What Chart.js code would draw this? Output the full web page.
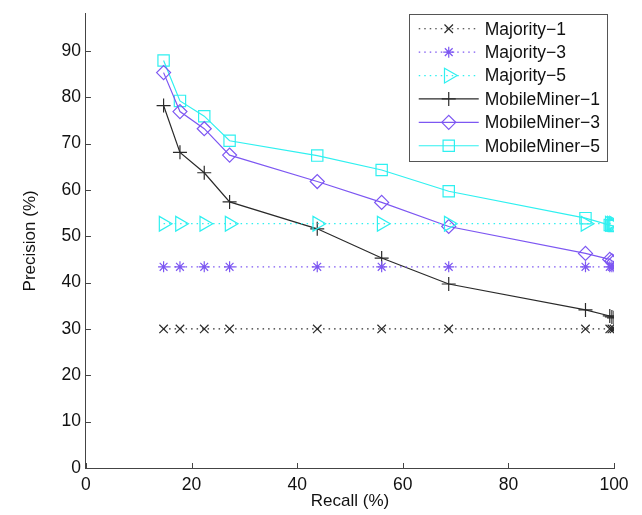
<!DOCTYPE html>
<html>
<head>
<meta charset="utf-8">
<script src="https://cdn.jsdelivr.net/npm/chart.js@4.4.1/dist/chart.umd.min.js"></script>
<style>
  html, body { margin: 0; padding: 0; background: #fff; }
  #wrap { width: 642px; height: 515px; }
</style>
</head>
<body>
<div id="wrap"><canvas id="prChart"></canvas></div>
<script>
// recall (%) values shared by every curve
const recall = [14.7, 17.8, 22.4, 27.2, 43.8, 56.0, 68.7, 94.6, 99.2, 99.6, 100];

// precision (%) per method
const majority1 = [30, 30, 30, 30, 30, 30, 30, 30, 30, 30, 30];
const majority3 = [43.4, 43.4, 43.4, 43.4, 43.4, 43.4, 43.4, 43.4, 43.4, 43.4, 43.4];
const majority5 = [52.7, 52.7, 52.7, 52.7, 52.7, 52.7, 52.7, 52.7, 52.7, 52.7, 52.7];
const mobileMiner1 = [78.2, 68.1, 63.7, 57.4, 51.6, 45.3, 39.7, 34.1, 32.8, 32.6, 32.4];
const mobileMiner3 = [85.3, 76.9, 73.2, 67.5, 61.8, 57.3, 52.1, 46.3, 45.0, 44.7, 44.5];
const mobileMiner5 = [87.9, 79.2, 75.9, 70.6, 67.4, 64.3, 59.7, 53.9, 52.4, 52.3, 52.2];

const xTicks = [0, 20, 40, 60, 80, 100];
const yTicks = [0, 10, 20, 30, 40, 50, 60, 70, 80, 90];

const black = '#2a2a2a';
const purple = '#7d57f2';
const cyan = '#2ff0f0';
const FONT = '"Liberation Sans", Arial, sans-serif';

function toPoints(ys) {
    return recall.map((r, i) => ({ x: r, y: ys[i] }));
}

function series(label, ys, color, style, radius, dotted, rotation) {
    return {
        label: label,
        data: toPoints(ys),
        showLine: true,
        borderColor: color,
        backgroundColor: 'rgba(0,0,0,0)',
        borderWidth: 1.2,
        borderDash: dotted ? [1.5, 4] : [],
        pointStyle: style,
        pointRadius: radius,
        pointHoverRadius: radius,
        pointBorderColor: color,
        pointBackgroundColor: 'rgba(0,0,0,0)',
        pointBorderWidth: 1.2,
        pointRotation: rotation || 0,
        tension: 0
    };
}

// matlab style ticks pointing into the plot
const innerTicks = {
    id: 'innerTicks',
    afterDraw(chart) {
        const ctx = chart.ctx;
        const area = chart.chartArea;
        ctx.save();
        ctx.strokeStyle = '#444';
        ctx.lineWidth = 1;
        chart.scales.x.ticks.forEach(t => {
            const px = Math.round(chart.scales.x.getPixelForValue(t.value)) + 0.5;
            ctx.beginPath();
            ctx.moveTo(px, area.bottom);
            ctx.lineTo(px, area.bottom - 5);
            ctx.stroke();
        });
        chart.scales.y.ticks.forEach(t => {
            const py = Math.round(chart.scales.y.getPixelForValue(t.value)) + 0.5;
            ctx.beginPath();
            ctx.moveTo(area.left, py);
            ctx.lineTo(area.left + 5, py);
            ctx.stroke();
        });
        ctx.restore();
    }
};

// legend box inside the plot, with line sample + marker like matlab
const boxLegend = {
    id: 'boxLegend',
    afterDraw(chart) {
        const ctx = chart.ctx;
        const area = chart.chartArea;
        const sets = chart.data.datasets;
        const rowH = 23.4;
        ctx.save();
        ctx.font = '17.5px ' + FONT;
        let textW = 0;
        sets.forEach(ds => { textW = Math.max(textW, ctx.measureText(ds.label).width); });
        const boxW = 76 + textW + 7;
        const boxH = rowH * sets.length + 7;
        const right = area.right - 7;
        const left = right - boxW;
        const top = area.top;

        ctx.fillStyle = '#fff';
        ctx.fillRect(left, top, boxW, boxH);
        ctx.strokeStyle = '#555';
        ctx.lineWidth = 1;
        ctx.strokeRect(Math.round(left) + 0.5, Math.round(top) + 0.5, Math.round(boxW), Math.round(boxH));

        sets.forEach((ds, i) => {
            const cy = top + 15 + i * rowH;
            ctx.strokeStyle = ds.borderColor;
            ctx.lineWidth = ds.borderWidth;
            ctx.setLineDash(ds.borderDash);
            ctx.beginPath();
            ctx.moveTo(left + 10, cy);
            ctx.lineTo(left + 70, cy);
            ctx.stroke();
            ctx.setLineDash([]);
            ctx.lineWidth = ds.pointBorderWidth;
            ctx.fillStyle = 'rgba(0,0,0,0)';
            Chart.helpers.drawPoint(ctx, {
                pointStyle: ds.pointStyle,
                rotation: ds.pointRotation,
                radius: ds.pointRadius,
                borderWidth: ds.pointBorderWidth
            }, left + 40, cy);
            ctx.fillStyle = '#111';
            ctx.textBaseline = 'middle';
            ctx.textAlign = 'left';
            ctx.fillText(ds.label, left + 76, cy + 1);
        });
        ctx.restore();
    }
};

new Chart(document.getElementById('prChart'), {
    type: 'scatter',
    data: {
        datasets: [
            series('Majority\u22121', majority1, black, 'crossRot', 6, true),
            series('Majority\u22123', majority3, purple, 'star', 5.5, true),
            series('Majority\u22125', majority5, cyan, 'triangle', 8.5, true, 90),
            series('MobileMiner\u22121', mobileMiner1, black, 'cross', 7, false),
            series('MobileMiner\u22123', mobileMiner3, purple, 'rectRot', 7, false),
            series('MobileMiner\u22125', mobileMiner5, cyan, 'rect', 8, false)
        ]
    },
    options: {
        responsive: true,
        maintainAspectRatio: false,
        animation: false,
        events: [],
        layout: {
            padding: { left: 13.5, right: 28, top: 12, bottom: 5 }
        },
        plugins: {
            legend: { display: false },
            tooltip: { enabled: false }
        },
        scales: {
            x: {
                type: 'linear',
                min: 0,
                max: 100,
                afterBuildTicks: axis => { axis.ticks = xTicks.map(v => ({ value: v })); },
                grid: { display: false, drawTicks: false },
                border: { display: true, color: '#444', width: 1 },
                ticks: {
                    color: '#111',
                    font: { family: FONT, size: 17.5, lineHeight: 1 },
                    padding: 8,
                    maxRotation: 0
                },
                title: {
                    display: true,
                    text: 'Recall (%)',
                    color: '#111',
                    font: { family: FONT, size: 17, lineHeight: 1 },
                    padding: { top: -8.5, bottom: 0 }
                }
            },
            y: {
                type: 'linear',
                min: 0,
                max: 98,
                afterBuildTicks: axis => { axis.ticks = yTicks.map(v => ({ value: v })); },
                grid: { display: false, drawTicks: false },
                border: { display: true, color: '#444', width: 1 },
                ticks: {
                    color: '#111',
                    font: { family: FONT, size: 17.5, lineHeight: 1 },
                    padding: 5
                },
                title: {
                    display: true,
                    text: 'Precision (%)',
                    color: '#111',
                    font: { family: FONT, size: 17, lineHeight: 1 },
                    padding: { top: 8, bottom: 18 }
                }
            }
        }
    },
    plugins: [innerTicks, boxLegend]
});
</script>
</body>
</html>
